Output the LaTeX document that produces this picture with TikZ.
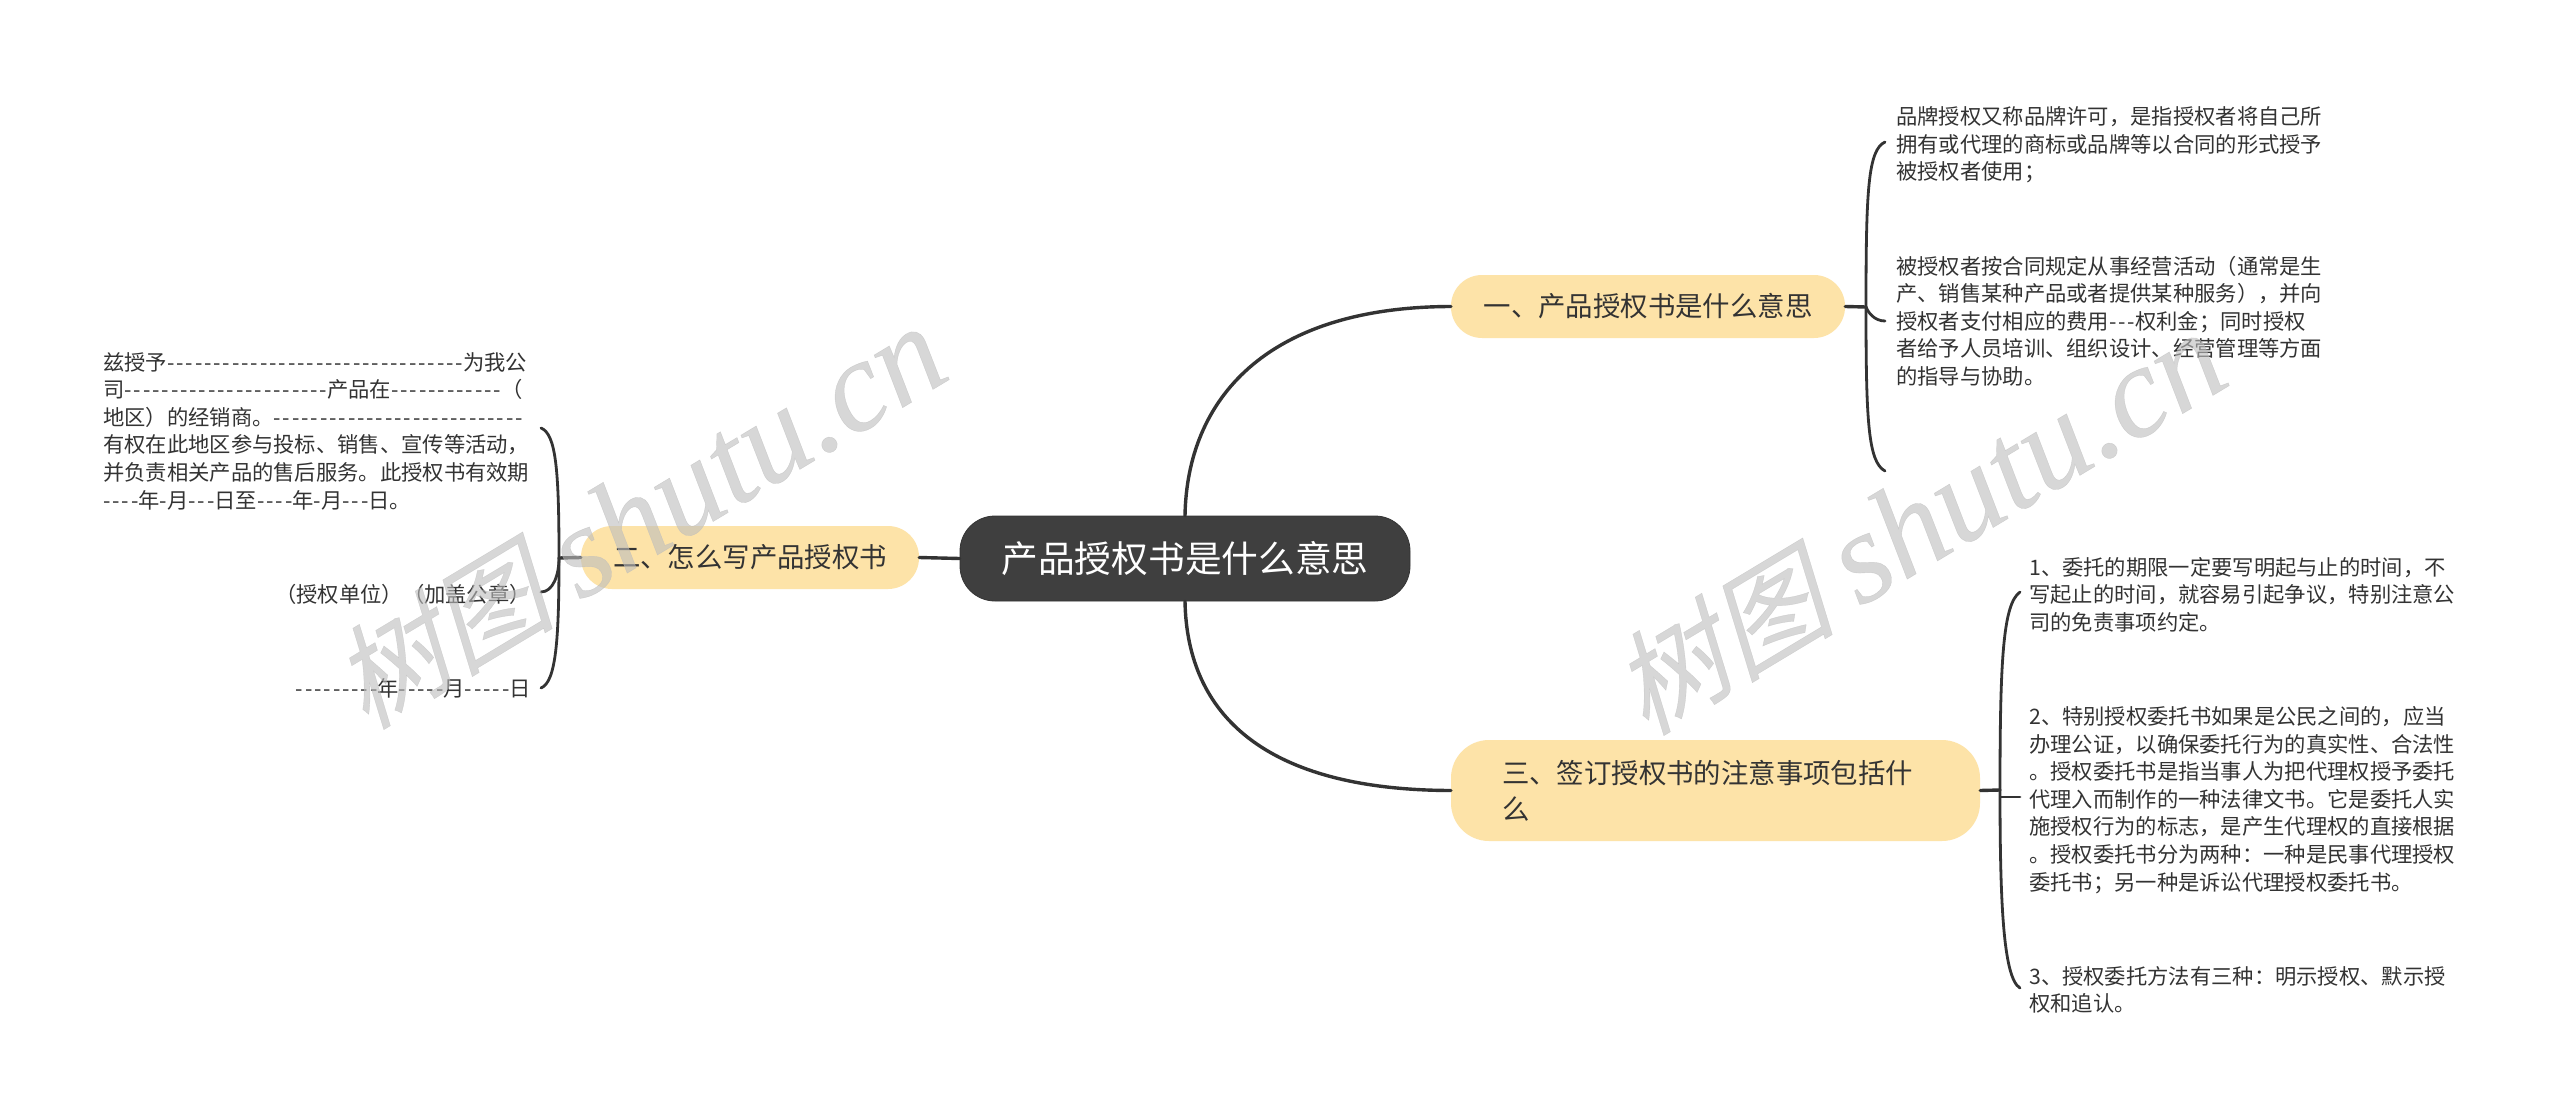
\documentclass[tikz,border=0pt]{standalone}
\usepackage{fontspec}
\newfontfamily\zh{Noto Sans CJK SC}
\newfontfamily\zhdash[LetterSpace=9]{Noto Sans CJK SC}
\newfontfamily\wmzh[FakeSlant=0.25,FakeBold=0.3]{Noto Sans CJK SC}
\newfontface\wmen[FakeBold=0.3]{Liberation Serif Italic}
\newcommand{\dd}[1]{{\zhdash #1}}
\definecolor{ink}{HTML}{333333}
\definecolor{topicfill}{HTML}{FDE3A8}
\definecolor{rootfill}{HTML}{3F3F3F}
\definecolor{wm}{HTML}{BDBDBD}
\tikzset{
  x=1pt,y=-1pt,
  leaf/.style={inner sep=0pt,align=left,text=ink,font=\zh\fontsize{21.3}{27.6}\selectfont},
  leafr/.style={inner sep=0pt,align=right,text=ink,font=\zh\fontsize{21.3}{27.6}\selectfont},
  topic/.style={fill=topicfill,rounded corners=31pt,inner sep=0pt,text=ink,font=\zh\fontsize{27.4}{36}\selectfont},
  rootnode/.style={fill=rootfill,draw=ink,line width=0.8pt,rounded corners=35pt,inner sep=0pt,text=white,font=\zh\fontsize{36.7}{44}\selectfont},
  link/.style={draw=ink,line width=3.4pt,line cap=round},
  brace/.style={draw=ink,line width=2.8pt,line cap=round},
  watermark/.style={inner sep=0pt,text=wm,text opacity=0.6,rotate=31}
}
\begin{document}
\begin{tikzpicture}
\useasboundingbox (0,0) rectangle (2560,1118);
\fill[white] (0,0) rectangle (2560,1118);
% root and topics
\node[rootnode,minimum width=450pt,minimum height=85pt] (root) at (1185,558.5) {产品授权书是什么意思};
\node[topic,minimum width=394pt,minimum height=63pt] (t1) at (1648,306.5) {一、产品授权书是什么意思};
\node[topic,minimum width=338pt,minimum height=63pt] (t2) at (750,557.5) {二、怎么写产品授权书};
\node[topic,minimum width=529pt,minimum height=101pt,rounded corners=38pt,align=left,text width=427pt] (t3) at (1715.5,790.5) {三、签订授权书的注意事项包括什\\么};
% leaves right top
\node[leaf,anchor=west] (a1) at (1896,145) {品牌授权又称品牌许可，是指授权者将自己所\\拥有或代理的商标或品牌等以合同的形式授予\\被授权者使用；};
\node[leaf,anchor=west] (a2) at (1896,321) {被授权者按合同规定从事经营活动（通常是生\\产、销售某种产品或者提供某种服务），并向\\授权者支付相应的费用\dd{---}权利金；同时授权\\者给予人员培训、组织设计、经营管理等方面\\的指导与协助。};
% leaves left
\node[leaf,anchor=west] (b1) at (103,431) {兹授予\dd{--------------------------------}为我公\\司\dd{----------------------}产品在\dd{------------}（\\地区）的经销商。\dd{---------------------------}\\有权在此地区参与投标、销售、宣传等活动，\\并负责相关产品的售后服务。此授权书有效期\\\dd{----}年\dd{-}月\dd{---}日至\dd{----}年\dd{-}月\dd{---}日。};
\node[leafr,anchor=east] (b2) at (531,594) {（授权单位）（加盖公章）};
\node[leafr,anchor=east] (b3) at (531,688) {\dd{---------}年\dd{-----}月\dd{-----}日};
% leaves right bottom
\node[leaf,anchor=west] (c1) at (2029,594.5) {1、委托的期限一定要写明起与止的时间，不\\写起止的时间，就容易引起争议，特别注意公\\司的免责事项约定。};
\node[leaf,anchor=west] (c2) at (2029,800) {2、特别授权委托书如果是公民之间的，应当\\办理公证，以确保委托行为的真实性、合法性\\。授权委托书是指当事人为把代理权授予委托\\代理入而制作的一种法律文书。它是委托人实\\施授权行为的标志，是产生代理权的直接根据\\。授权委托书分为两种：一种是民事代理授权\\委托书；另一种是诉讼代理授权委托书。};
\node[leaf,anchor=west] (c3) at (2029,990) {3、授权委托方法有三种：明示授权、默示授\\权和追认。};
% brace tips
\coordinate (a1tip) at (1885,142);
\coordinate (a2tip) at (1885,321);
\coordinate (a3tip) at (1885,471);
\coordinate (aj) at (1866,307);
\coordinate (b1tip) at (541,428);
\coordinate (b2tip) at (541,592);
\coordinate (b3tip) at (541,688);
\coordinate (bj) at (559,558);
\coordinate (c1tip) at (2020,592);
\coordinate (c2tip) at (2020,797);
\coordinate (c3tip) at (2020,988);
\coordinate (cj) at (2000,790);
% root links
\draw[link] (root.north) .. controls (1187,400) and (1265,307) .. (t1.west);
\draw[link] (root.south) .. controls (1187,715) and (1265,790) .. (t3.west);
\draw[link] (t2.east) -- (root.west);
% topic stems
\draw[link] (t1.east) -- (aj);
\draw[link] (t2.west) -- (bj);
\draw[link] (t3.east) -- (cj);
% braces
\draw[brace] (aj) .. controls (1866,190) and (1868,150) .. (a1tip);
\draw[brace] (aj) .. controls (1868,312) and (1874,321) .. (a2tip);
\draw[brace] (aj) .. controls (1866,420) and (1868,462) .. (a3tip);
\draw[brace] (bj) .. controls (559,470) and (556,434) .. (b1tip);
\draw[brace] (bj) .. controls (559,575) and (553,592) .. (b2tip);
\draw[brace] (bj) .. controls (559,640) and (556,682) .. (b3tip);
\draw[brace] (cj) .. controls (2000,660) and (2003,604) .. (c1tip);
\draw[brace] (cj) -- (2000,797) -- (c2tip);
\draw[brace] (cj) .. controls (2000,900) and (2003,978) .. (c3tip);
% watermarks
\node[watermark] (w1) at (638,517) {{\wmzh\fontsize{112}{120}\selectfont 树图}\hspace{26pt}{\wmen\fontsize{130}{140}\selectfont shutu.cn}};
\node[watermark] (w2) at (1918,523) {{\wmzh\fontsize{112}{120}\selectfont 树图}\hspace{26pt}{\wmen\fontsize{130}{140}\selectfont shutu.cn}};
\end{tikzpicture}
\end{document}
